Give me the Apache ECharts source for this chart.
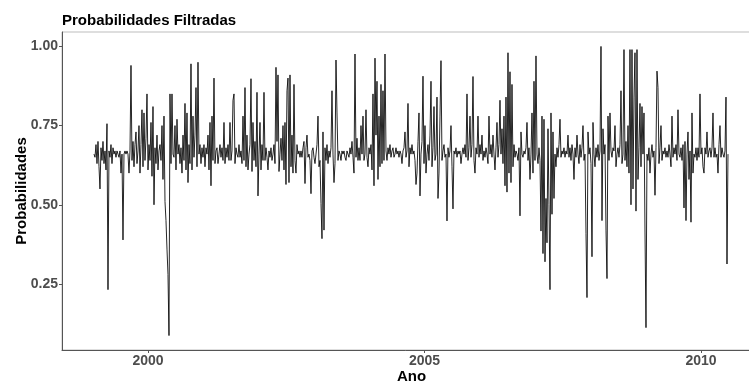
<!DOCTYPE html>
<html>
<head>
<meta charset="utf-8">
<script src="https://cdn.jsdelivr.net/npm/echarts@6/dist/echarts.min.js"></script>
<style>
html,body{margin:0;padding:0;background:#fff;}
#chart{width:749px;height:382px;}
</style>
</head>
<body>
<div id="chart"></div>
<script>
// Title and axis texts
var chartTitle = 'Probabilidades Filtradas';
var xName = 'Ano';
var yName = 'Probabilidades';
var xTickValues = [2000, 2005, 2010];
var yTickValues = [0.25, 0.50, 0.75, 1.00];

// Time index: first sample early 1999, one sample every ~6.6 days
var startYear = 1999.0235;
var stepYear = 1 / 55.3;

// Filtered probabilities (blocks of 10 samples)
var probs = [
  .66,.65,.69,.63,.70,.62,.55,.68,.64,.70,
  .63,.67,.61,.756,.232,.67,.65,.69,.63,.68,
  .66,.67,.65,.67,.66,.65,.67,.60,.66,.389,
  .66,.67,.66,.67,.66,.60,.67,.94,.64,.70,
  .62,.69,.73,.63,.67,.75,.60,.69,.80,.62,
  .79,.64,.71,.85,.61,.69,.64,.76,.59,.81,
  .50,.68,.63,.72,.61,.67,.69,.64,.75,.58,
  .78,.51,.45,.36,.28,.087,.85,.63,.85,.66,
  .65,.75,.61,.77,.66,.69,.63,.68,.60,.72,
  .64,.82,.61,.79,.57,.69,.63,.945,.61,.78,
  .65,.72,.87,.62,.95,.66,.69,.63,.68,.65,
  .69,.62,.68,.66,.72,.61,.76,.56,.78,.64,
  .90,.63,.67,.68,.63,.66,.69,.65,.68,.64,
  .76,.63,.68,.65,.69,.64,.76,.64,.67,.83,
  .85,.63,.68,.66,.65,.69,.65,.67,.63,.78,
  .64,.87,.62,.72,.61,.66,.69,.898,.605,.76,
  .64,.70,.62,.855,.528,.66,.76,.61,.69,.64,
  .855,.64,.68,.65,.61,.67,.65,.68,.64,.66,
  .69,.63,.934,.70,.91,.605,.66,.71,.64,.75,
  .61,.76,.564,.86,.90,.57,.91,.62,.72,.60,
  .88,.64,.60,.69,.66,.67,.65,.67,.65,.68,
  .70,.567,.68,.72,.65,.66,.64,.535,.67,.68,
  .65,.63,.66,.69,.78,.62,.64,.504,.393,.73,
  .42,.68,.64,.69,.63,.67,.65,.68,.86,.66,
  .57,.63,.957,.79,.64,.67,.66,.64,.67,.66,
  .67,.65,.64,.67,.66,.65,.68,.66,.70,.65,
  .60,.976,.65,.71,.64,.68,.64,.75,.66,.78,
  .64,.66,.80,.65,.62,.68,.66,.69,.61,.85,
  .56,.963,.72,.89,.58,.78,.62,.88,.63,.86,
  .64,.976,.67,.64,.68,.66,.69,.65,.67,.68,
  .65,.66,.68,.66,.67,.65,.67,.66,.63,.67,
  .68,.73,.65,.67,.82,.62,.68,.66,.69,.66,
  .67,.64,.564,.60,.70,.79,.528,.66,.70,.906,
  .63,.75,.60,.66,.69,.64,.72,.89,.62,.68,
  .81,.64,.66,.84,.52,.60,.78,.955,.64,.67,
  .69,.65,.66,.449,.68,.65,.67,.75,.62,.487,
  .67,.66,.68,.65,.67,.66,.67,.63,.66,.68,
  .66,.69,.65,.85,.64,.68,.78,.65,.69,.905,
  .64,.60,.68,.66,.78,.65,.69,.66,.72,.64,
  .67,.65,.68,.66,.63,.78,.66,.69,.65,.72,
  .66,.61,.68,.76,.65,.69,.83,.66,.74,.63,
  .78,.56,.84,.54,.98,.60,.92,.57,.88,.62,
  .69,.65,.67,.66,.64,.68,.465,.73,.66,.65,
  .67,.66,.68,.76,.64,.68,.58,.66,.79,.60,
  .89,.64,.97,.66,.63,.68,.64,.417,.78,.346,
  .77,.32,.52,.38,.74,.50,.232,.79,.47,.73,
  .52,.66,.62,.68,.65,.69,.77,.65,.67,.66,
  .68,.65,.67,.66,.72,.65,.68,.64,.69,.66,
  .58,.68,.65,.72,.66,.63,.69,.65,.68,.75,
  .64,.66,.41,.207,.73,.66,.68,.63,.336,.76,
  .66,.62,.68,.65,.69,.64,.67,1.00,.45,.74,
  .66,.69,.42,.267,.78,.64,.79,.67,.65,.68,
  .67,.75,.62,.66,.68,.65,.69,.86,.63,.66,
  .99,.64,.70,.62,.75,.60,.99,.50,.99,.55,
  .84,.98,.48,.99,.58,.68,.82,.62,.81,.66,
  .79,.414,.112,.66,.64,.68,.60,.66,.69,.65,
  .67,.53,.68,.922,.87,.63,.68,.75,.64,.67,
  .66,.68,.65,.67,.65,.69,.66,.62,.78,.65,
  .68,.66,.69,.64,.80,.66,.65,.68,.64,.69,
  .49,.70,.45,.66,.73,.58,.67,.445,.79,.60,
  .66,.65,.68,.64,.68,.65,.85,.66,.68,.62,
  .60,.68,.66,.73,.65,.67,.68,.65,.68,.79,
  .65,.68,.65,.66,.60,.69,.75,.65,.68,.66,
  .65,.67,.84,.313,.66
];

var seriesData = probs.map(function (v, i) { return [startYear + i * stepYear, v]; });

var FONT = '"Liberation Sans", Arial, sans-serif';
var chart = echarts.init(document.getElementById('chart'), null, {renderer: 'canvas'});
chart.setOption({
  animation: false,
  backgroundColor: '#ffffff',
  textStyle: {fontFamily: FONT},
  title: {
    text: chartTitle,
    left: 62,
    top: 13,
    padding: 0,
    textStyle: {fontFamily: FONT, fontSize: 15, fontWeight: 'bold', color: '#000'}
  },
  grid: {
    left: 62, right: -1, top: 32, bottom: 32,
    outerBoundsMode: 'none',
    containLabel: false,
    show: true, borderColor: '#bdbdbd', borderWidth: 1, backgroundColor: 'transparent'
  },
  xAxis: {
    type: 'value',
    min: 1998.445,
    max: 2000 + 602 / 55.3,
    name: xName,
    nameLocation: 'middle',
    nameGap: 19,
    nameMoveOverlap: false,
    nameTextStyle: {fontFamily: FONT, fontSize: 15, fontWeight: 'bold', color: '#000', padding: [0, 0, 0, 11]},
    splitLine: {show: false},
    axisLine: {show: true, onZero: false, lineStyle: {color: '#555', width: 1}},
    axisTick: {show: true, length: 3, customValues: xTickValues, lineStyle: {color: '#555'}},
    axisLabel: {
      customValues: xTickValues,
      fontFamily: FONT, fontSize: 14, fontWeight: 'bold', color: '#4d4d4d', margin: 4,
      formatter: function (v) { return String(Math.round(v)); }
    }
  },
  yAxis: {
    type: 'value',
    min: 0.0415,
    max: 1.0455,
    name: yName,
    nameLocation: 'middle',
    nameRotate: 90,
    nameGap: 33,
    nameMoveOverlap: false,
    nameTextStyle: {fontFamily: FONT, fontSize: 15, fontWeight: 'bold', color: '#000'},
    splitLine: {show: false},
    axisLine: {show: true, onZero: false, lineStyle: {color: '#555', width: 1}},
    axisTick: {show: true, length: 3, customValues: yTickValues, lineStyle: {color: '#555'}},
    axisLabel: {
      customValues: yTickValues,
      fontFamily: FONT, fontSize: 14, fontWeight: 'bold', color: '#4d4d4d', margin: 4,
      formatter: function (v) { return v.toFixed(2); }
    }
  },
  series: [{
    type: 'line',
    data: seriesData,
    showSymbol: false,
    symbol: 'none',
    lineStyle: {color: '#000', width: 0.85},
    emphasis: {disabled: true}
  }]
});
</script>
</body>
</html>
